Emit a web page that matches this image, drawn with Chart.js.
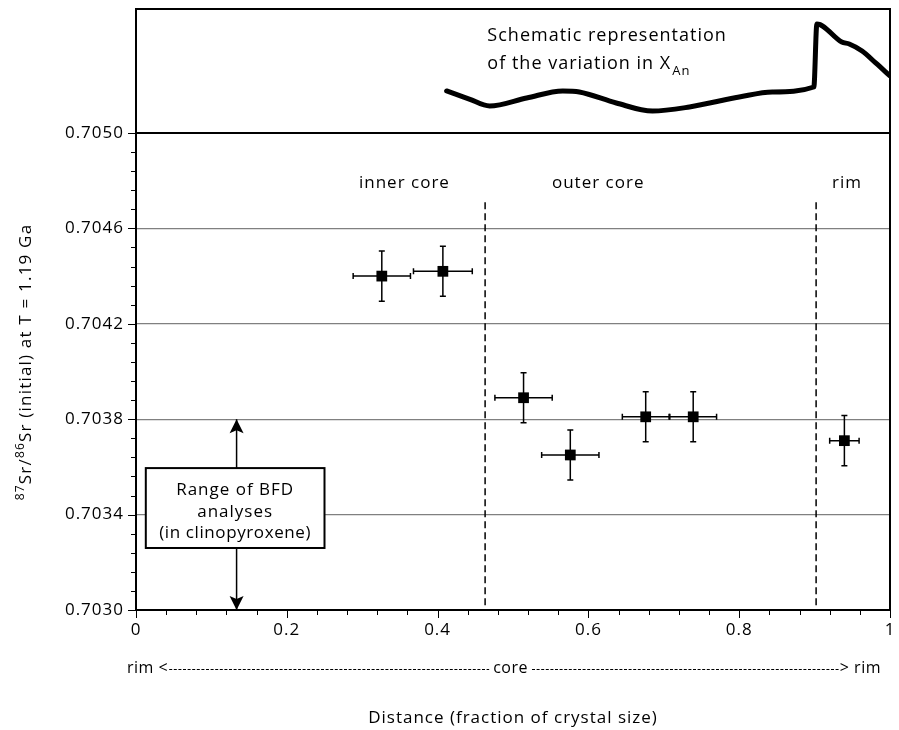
<!DOCTYPE html>
<html><head><meta charset="utf-8">
<script src="https://cdn.jsdelivr.net/npm/chart.js@4/dist/chart.umd.min.js"></script>
<style>html,body{margin:0;padding:0;background:#fff}#wrap{width:899px;height:730px;position:relative}</style>
</head><body><div id="wrap"><canvas id="c" width="899" height="730"></canvas></div>
<script>
// ---- data ----
const distance = [0.326, 0.407, 0.514, 0.576, 0.676, 0.739, 0.9395];
const srRatio = [0.70440, 0.70442, 0.70389, 0.70365, 0.70381, 0.70381, 0.70371];
const distanceErr = [0.038, 0.039, 0.038, 0.038, 0.031, 0.031, 0.0195];
const srRatioErr = [0.000105, 0.000105, 0.000105, 0.000105, 0.000105, 0.000105, 0.000105];
const schematicX = [0.412, 0.442, 0.469, 0.518, 0.566, 0.588, 0.637, 0.685, 0.734, 0.800, 0.844, 0.899, 0.903, 0.936, 0.946, 0.963, 0.981, 1.0];
const schematicY = [0.339, 0.274, 0.218, 0.282, 0.339, 0.331, 0.242, 0.177, 0.210, 0.290, 0.331, 0.371, 0.879, 0.734, 0.718, 0.661, 0.565, 0.46];
const zoneBoundaries = [0.463, 0.902];
const zoneLabels = ['inner core', 'outer core', 'rim'];
const zoneLabelX = [0.356, 0.613, 0.943];
const bfdRange = [0.7030, 0.7038];
const bfdX = 0.1334;
const yTicksMajor = [0.7030, 0.7034, 0.7038, 0.7042, 0.7046, 0.7050];
const xTicksMajor = [0, 0.2, 0.4, 0.6, 0.8, 1];

const FONT = "'Open Sans', 'Noto Sans', sans-serif";
const dashTop = 0.70471;

const datasets = [
  { label: 'pts', data: distance.map((d, i) => ({x: d, y: srRatio[i]})), yAxisID: 'y',
    pointStyle: 'rect', pointRadius: 7.6, backgroundColor: '#000', borderColor: '#000', borderWidth: 0, showLine: false, order: 0 },
  { label: 'schematic', data: schematicX.map((d, i) => ({x: d, y: schematicY[i]})), yAxisID: 'yTop',
    showLine: true, pointRadius: 0, borderColor: '#000', borderWidth: 5, cubicInterpolationMode: 'monotone',
    borderCapStyle: 'round', borderJoinStyle: 'round', fill: false },
  ...zoneBoundaries.map(b => ({ label: 'b', data: [{x: b, y: dashTop}, {x: b, y: 0.7030}], yAxisID: 'y',
    showLine: true, pointRadius: 0, borderColor: '#000', borderWidth: 1.5, borderDash: [7, 4], fill: false })),
  { label: 'bfd', data: [{x: bfdX, y: bfdRange[0]}, {x: bfdX, y: bfdRange[1]}], yAxisID: 'y',
    showLine: true, pointRadius: 0, borderColor: '#000', borderWidth: 1.5, fill: false }
];

function text(ctx, s, x, y, size, align, base, ls) {
  ctx.font = size + 'px ' + FONT;
  ctx.letterSpacing = (ls === undefined ? 1 : ls) + 'px';
  ctx.textAlign = align || 'center';
  ctx.textBaseline = base || 'middle';
  ctx.fillStyle = '#000';
  ctx.fillText(s, x, y);
}

const zeroPad = s => { s.paddingTop = 0; s.paddingBottom = 0; s.paddingLeft = 0; s.paddingRight = 0; };

const deco = {
  id: 'deco',
  beforeDraw(chart) { chart.ctx.letterSpacing = '1px'; },
  beforeDatasetsDraw(chart) {
    const ctx = chart.ctx, xs = chart.scales.x, ys = chart.scales.y;
    ctx.save();
    ctx.strokeStyle = '#000';
    ctx.lineWidth = 1.5;
    distance.forEach((d, i) => {
      const px = xs.getPixelForValue(d), py = ys.getPixelForValue(srRatio[i]);
      const x1 = xs.getPixelForValue(d - distanceErr[i]), x2 = xs.getPixelForValue(d + distanceErr[i]);
      const y1 = ys.getPixelForValue(srRatio[i] + srRatioErr[i]), y2 = ys.getPixelForValue(srRatio[i] - srRatioErr[i]);
      ctx.beginPath();
      ctx.moveTo(x1, py); ctx.lineTo(x2, py);
      ctx.moveTo(px, y1); ctx.lineTo(px, y2);
      ctx.moveTo(x1, py - 3); ctx.lineTo(x1, py + 3);
      ctx.moveTo(x2, py - 3); ctx.lineTo(x2, py + 3);
      ctx.moveTo(px - 3, y1); ctx.lineTo(px + 3, y1);
      ctx.moveTo(px - 3, y2); ctx.lineTo(px + 3, y2);
      ctx.stroke();
    });
    ctx.restore();
  },
  afterDatasetsDraw(chart) {
    const ctx = chart.ctx, xs = chart.scales.x, ys = chart.scales.y, yt = chart.scales.yTop;
    const ca = chart.chartArea;
    ctx.save();
    // frame
    ctx.strokeStyle = '#000';
    ctx.lineWidth = 2;
    ctx.strokeRect(ca.left, ca.top, ca.right - ca.left, ca.bottom - ca.top);
    const yDiv = ys.getPixelForValue(0.7050);
    ctx.beginPath(); ctx.moveTo(ca.left, yDiv); ctx.lineTo(ca.right, yDiv); ctx.stroke();
    // minor / major ticks
    ctx.lineWidth = 1;
    ctx.strokeStyle = '#000';
    ctx.beginPath();
    for (let i = 0; i <= 25; i++) {
      const v = 0.7030 + i * 0.00008;
      const p = Math.round(ys.getPixelForValue(v)) + 0.5;
      const len = (i % 5 === 0) ? 8 : 5;
      ctx.moveTo(ca.left - len, p); ctx.lineTo(ca.left, p);
      const xv = i * 0.04;
      const q = Math.round(xs.getPixelForValue(xv)) + 0.5;
      const l2 = (i % 5 === 0) ? 8 : 5;
      ctx.moveTo(q, ca.bottom); ctx.lineTo(q, ca.bottom + l2);
    }
    ctx.stroke();
    // zone labels
    const zy = ys.getPixelForValue(0.70479);
    zoneLabels.forEach((s, i) => text(ctx, s, xs.getPixelForValue(zoneLabelX[i]), zy, 17));
    // BFD arrows
    const ax = xs.getPixelForValue(bfdX);
    const aTop = ys.getPixelForValue(bfdRange[1]), aBot = ys.getPixelForValue(bfdRange[0]);
    ctx.fillStyle = '#000';
    ctx.beginPath();
    ctx.moveTo(ax, aTop); ctx.lineTo(ax - 7, aTop + 14); ctx.lineTo(ax, aTop + 11); ctx.lineTo(ax + 7, aTop + 14); ctx.closePath();
    ctx.moveTo(ax, aBot); ctx.lineTo(ax - 7, aBot - 14); ctx.lineTo(ax, aBot - 11); ctx.lineTo(ax + 7, aBot - 14); ctx.closePath();
    ctx.fill();
    // BFD box
    const bx1 = xs.getPixelForValue(0.013), bx2 = xs.getPixelForValue(0.250);
    const by1 = ys.getPixelForValue(0.703595), by2 = ys.getPixelForValue(0.70326);
    ctx.fillStyle = '#fff';
    ctx.fillRect(bx1, by1, bx2 - bx1, by2 - by1);
    ctx.lineWidth = 2; ctx.strokeStyle = '#000';
    ctx.strokeRect(bx1, by1, bx2 - bx1, by2 - by1);
    const bc = (bx1 + bx2) / 2;
    text(ctx, 'Range of BFD', bc, by1 + 22, 17);
    text(ctx, 'analyses', bc, by1 + 44, 17);
    text(ctx, '(in clinopyroxene)', bc, by1 + 65, 17, 'center', 'middle', 0.6);
    // top panel text
    const tx = xs.getPixelForValue(0.466);
    text(ctx, 'Schematic representation', tx, yt.getPixelForValue(0.78), 18, 'left');
    const s2 = 'of the variation in X';
    text(ctx, s2, tx, yt.getPixelForValue(0.555), 18, 'left');
    const w2 = ctx.measureText(s2).width;
    text(ctx, 'An', tx + w2 + 1, yt.getPixelForValue(0.555) + 7, 13, 'left');
    // rim <---- core ----> rim
    const ry = 668;
    ctx.font = '16px ' + FONT; ctx.letterSpacing = '0.5px';
    const lw = ctx.measureText('rim <').width, rw = ctx.measureText('> rim').width, cw = ctx.measureText('core').width;
    const lx = 127, rx = 881, cx = xs.getPixelForValue(0.4968);
    text(ctx, 'rim <', lx, ry, 16, 'left', 'middle', 0.5);
    text(ctx, 'core', cx, ry, 16, 'center', 'middle', 0.5);
    text(ctx, '> rim', rx, ry, 16, 'right', 'middle', 0.5);
    ctx.save();
    ctx.setLineDash([3, 1.6]);
    ctx.lineWidth = 1;
    ctx.beginPath();
    ctx.moveTo(lx + lw + 1, ry + 1.5); ctx.lineTo(cx - cw / 2 - 4, ry + 1.5);
    ctx.moveTo(cx + cw / 2 + 4, ry + 1.5); ctx.lineTo(rx - rw - 1, ry + 1.5);
    ctx.stroke();
    ctx.restore();
    // y title
    ctx.translate(26, 362);
    ctx.rotate(-Math.PI / 2);
    const segs = [['87', true], ['Sr/', false], ['86', true], ['Sr (initial) at T = 1.19 Ga', false]];
    ctx.letterSpacing = '1.2px';
    let total = 0;
    segs.forEach(sg => { ctx.font = (sg[1] ? 12 : 17) + 'px ' + FONT; total += ctx.measureText(sg[0]).width; });
    let pos = -total / 2;
    ctx.textAlign = 'left'; ctx.textBaseline = 'middle'; ctx.fillStyle = '#000';
    segs.forEach(sg => {
      ctx.font = (sg[1] ? 12 : 17) + 'px ' + FONT;
      ctx.fillText(sg[0], pos, sg[1] ? -5 : 0);
      pos += ctx.measureText(sg[0]).width;
    });
    ctx.restore();
  }
};

new Chart(document.getElementById('c'), {
  type: 'scatter',
  data: { datasets },
  options: {
    responsive: false, animation: false, devicePixelRatio: 1,
    events: [],
    layout: { padding: { top: 9, right: 9, left: 0, bottom: 0 } },
    plugins: { legend: { display: false }, tooltip: { enabled: false } },
    scales: {
      x: {
        type: 'linear', min: 0, max: 1, position: 'bottom',
        afterBuildTicks: s => { s.ticks = xTicksMajor.map(v => ({value: v})); },
        ticks: { callback: v => (v === 0 || v === 1) ? String(v) : v.toFixed(1), color: '#000', font: { size: 17, family: FONT }, padding: 10, maxRotation: 0 },
        grid: { display: false, drawTicks: false },
        border: { display: false },
        title: { display: true, text: 'Distance (fraction of crystal size)', color: '#000', font: { size: 17, family: FONT }, padding: { top: 0, bottom: 2 } },
        afterFit: s => { s.height = 120; zeroPad(s); }
      },
      y: {
        type: 'linear', min: 0.7030, max: 0.7050, position: 'left', stack: 'v', stackWeight: 477,
        afterBuildTicks: s => { s.ticks = yTicksMajor.map(v => ({value: v})); },
        ticks: { callback: v => v.toFixed(4), color: '#000', font: { size: 17, family: FONT }, padding: 12 },
        grid: { drawTicks: false, color: c => (c.tick && (Math.abs(c.tick.value - 0.705) < 1e-9 || Math.abs(c.tick.value - 0.703) < 1e-9)) ? 'rgba(0,0,0,0)' : '#808080', lineWidth: 1.3 },
        border: { display: false },
        afterFit: s => { s.width = 136; zeroPad(s); }
      },
      yTop: {
        type: 'linear', min: 0, max: 1, position: 'left', stack: 'v', stackWeight: 124,
        ticks: { display: false },
        grid: { display: false, drawTicks: false },
        border: { display: false },
        afterFit: s => { s.width = 136; zeroPad(s); }
      }
    }
  },
  plugins: [deco]
});
</script>
</body></html>
